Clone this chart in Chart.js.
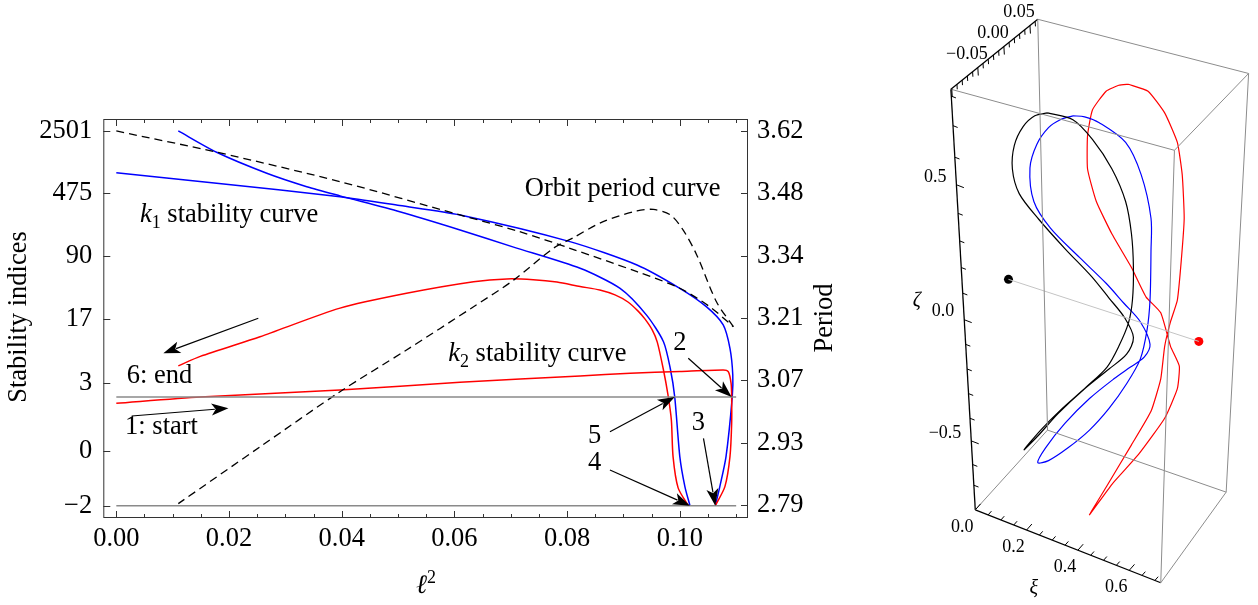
<!DOCTYPE html>
<html>
<head>
<meta charset="utf-8">
<script src="https://cdn.jsdelivr.net/npm/chart.js@4.4.1/dist/chart.umd.min.js"></script>
<style>
html, body { margin: 0; padding: 0; background: #fff; }
#wrap { position: relative; width: 1258px; height: 605px; }
#left { position: absolute; left: 0; top: 0; }
#right { position: absolute; left: 880px; top: 0; }
</style>
</head>
<body>
<div id="wrap">
<canvas id="left" width="870" height="605"></canvas>
<canvas id="right" width="378" height="605"></canvas>
</div>
<script>
// ===========================================
// DATA
// ===========================================

// k1 stability index, from "1: start" to point 3
const k1StartX = [0, 0.0178, 0.0397, 0.0503, 0.0610, 0.0805, 0.0924, 0.1000, 0.1047, 0.1077, 0.1089, 0.1094, 0.1093, 0.1082, 0.1071, 0.1063];
const k1StartK = [825, 622, 435, 344, 268, 132, 70.9, 38.1, 23.4, 14.4, 7.7, 3.74, 2.0, -0.14, -1.08, -2];

// k1 stability index, from point 4 to "6: end"
const k1EndX = [0.1018, 0.1009, 0.1000, 0.0991, 0.0983, 0.0971, 0.0941, 0.0894, 0.0823, 0.0705, 0.0610, 0.0503, 0.0397, 0.0338, 0.0267, 0.0178, 0.0110];
const k1EndK = [-2, -1.08, -0.14, 2.0, 4.5, 9.2, 18.7, 38.1, 64.9, 114, 180, 292, 445, 568, 812, 1418, 2500];

// k2 stability index, from "1: start" to point 3
const k2StartX = [0, 0.0149, 0.0397, 0.0610, 0.0823, 0.0912, 0.1000, 0.1077, 0.1086, 0.1091, 0.1092, 0.1092, 0.1089, 0.1080, 0.1063];
const k2StartK = [1.655, 2.0, 2.457, 3.06, 3.642, 3.92, 4.12, 4.29, 4.1, 2.97, 2.0, 0.817, -0.14, -1.08, -2];

// k2 stability index, from point 4 to "6: end"
const k2EndX = [0.1015, 0.0997, 0.0988, 0.0985, 0.0979, 0.0971, 0.0960, 0.0951, 0.0938, 0.0926, 0.0908, 0.0885, 0.0858, 0.0823, 0.0782, 0.0740, 0.0693, 0.0634, 0.0515, 0.0397, 0.0255, 0.0149, 0.0110];
const k2EndK = [-2, -1.13, -0.14, 0.93, 2.13, 4.29, 9.1, 12.6, 16.9, 20.8, 26.5, 32, 36.5, 40, 45, 48, 49, 45.4, 33.4, 22.5, 10.5, 6.2, 4.8];

// orbit period (right axis); the curve turns back at index 9
const periodX = [0, 0.0178, 0.0397, 0.0610, 0.0716, 0.0805, 0.0924, 0.1000, 0.1053, 0.1095, 0.1065, 0.1030, 0.1006, 0.0983, 0.0953, 0.0924, 0.0864, 0.0810, 0.0776, 0.0705, 0.0634, 0.0515, 0.0397, 0.0255, 0.0110];
const periodT = [3.62, 3.573, 3.5075, 3.4336, 3.3965, 3.3597, 3.3077, 3.271, 3.230, 3.1857, 3.241, 3.345, 3.400, 3.434, 3.446, 3.4425, 3.419, 3.3825, 3.360, 3.289, 3.230, 3.134, 3.0414, 2.919, 2.793];
const PERIOD_TURN = 9;

// stability limits k = +2 / -2
const limitX = [0, 0.110];
const limitK = [2, -2];

// ticks
const xTicks = [0, 0.02, 0.04, 0.06, 0.08, 0.10];
const stabilityTicks = [-2, 0, 3, 17, 90, 475, 2501];
const stabilityLabels = ["\u22122", "0", "3", "17", "90", "475", "2501"];
const periodTicks = [2.79, 2.928, 3.067, 3.205, 3.343, 3.482, 3.62];
const periodLabels = ["2.79", "2.93", "3.07", "3.21", "3.34", "3.48", "3.62"];

// text notes, anchored at (l^2, k)
const notes = [
    { x: 0.0042, k: 224, parts: [{ t: "k", it: 1 }, { t: "1", sub: 1 }, { t: " stability curve" }] },
    { x: 0.0725, k: 447, parts: [{ t: "Orbit period curve" }] },
    { x: 0.0589, k: 5.52, parts: [{ t: "k", it: 1 }, { t: "2", sub: 1 }, { t: " stability curve" }] },
    { x: 0.00185, k: 2.97, parts: [{ t: "6: end" }] },
    { x: 0.00156, k: 0.478, parts: [{ t: "1: start" }] },
    { x: 0.1000, k: 7.37, parts: [{ t: "2" }], center: 1 },
    { x: 0.1033, k: 0.599, parts: [{ t: "3" }], center: 1 },
    { x: 0.0849, k: 0.217, parts: [{ t: "5" }], center: 1 },
    { x: 0.0849, k: -0.515, parts: [{ t: "4" }], center: 1 }
];

// arrows: tail -> head, in (l^2, k)
const arrows = [
    [[0.0252, 17.2], [0.00834, 6.74]],
    [[0.00273, 1.085], [0.0199, 1.418]],
    [[0.1015, 5.89], [0.1092, 2]],
    [[0.0876, 0.547], [0.0991, 2]],
    [[0.0876, -0.515], [0.1018, -2]],
    [[0.1042, 0.355], [0.1063, -2]]
];

// ---- right panel: projected 3D orbits (picture coordinates) ----
const blackOrbit = [[1047,110],[1034,113],[1022,124],[1013,143],[1011,167],[1018,192],[1038,218],[1065,248],[1092,276],[1110,298],[1126,318],[1135,338],[1128,355],[1110,370],[1085,390],[1058,415],[1038,437],[1023,452],[1040,432],[1060,412],[1087,388],[1108,368],[1120,347],[1130,323],[1134,300],[1135,267],[1133,233],[1127,200],[1113,167],[1093,137],[1073,117],[1047,110]];
const blueOrbit = [[1073,113],[1060,117],[1048,125],[1036,142],[1029,166],[1033,200],[1050,227],[1080,257],[1107,283],[1125,303],[1142,322],[1152,345],[1146,358],[1132,368],[1115,380],[1090,400],[1065,425],[1045,450],[1037,465],[1048,463],[1068,450],[1090,432],[1110,410],[1128,385],[1142,360],[1149,330],[1152,300],[1153,250],[1153,217],[1143,173],[1127,140],[1100,120],[1085,114],[1073,113]];
const redOrbit = [[1130,81],[1150,88],[1167,110],[1180,140],[1185,173],[1187,217],[1184,260],[1180,300],[1173,322],[1167,347],[1163,380],[1153,413],[1133,447],[1107,490],[1090,518],[1113,487],[1140,457],[1167,420],[1180,390],[1182,367],[1173,347],[1163,313],[1148,297],[1133,267],[1113,233],[1097,200],[1088,167],[1088,133],[1093,107],[1107,88],[1120,82],[1130,81]];
const blackDot = [1007, 279];
const redDot = [1202, 342];

// box corners
const corner = { A: [948,86], B: [1037,15], C: [1253,70], D: [1177,148], E: [973,513], F: [1047,432], G: [1163,587], H: [1230,495] };
const grayEdges = [["A","D"],["B","C"],["C","D"],["B","F"],["C","H"],["D","G"],["E","F"],["F","H"],["G","H"]];
const axisEdges = [["A","B"],["A","E"],["E","G"]];

const zetaTickY = [93,123,155,183,212,240,267,293,320,345,370,395,420,443,467,488];
const zetaLabels = [[183, "0.5"], [320, "0.0"], [443, "\u22120.5"]];
const xiLabels = [[0, "0.0"], [0.2, "0.2"], [0.4, "0.4"], [0.6, "0.6"]];
const etaLabels = [[-0.05, "\u22120.05"], [0, "0.00"], [0.05, "0.05"]];

// ===========================================
// SETTINGS
// ===========================================

const FONT = "'Liberation Serif', 'Times New Roman', serif";
Chart.defaults.font.family = FONT;
Chart.defaults.color = "#000";

const FS = 26.5;

function pts(xs, ys, f) {
    return xs.map((x, i) => ({ x: x, y: f ? f(ys[i]) : ys[i] }));
}

function line(data, color, width, extra) {
    return Object.assign({
        data: data,
        showLine: true,
        borderColor: color,
        borderWidth: width,
        pointRadius: 0,
        fill: false,
        tension: 0
    }, extra || {});
}

function fontFor(p, size) {
    const s = (p.sub || p.sup) ? Math.round(size * 0.68) : size;
    return (p.it ? "italic " : "") + s + "px " + FONT;
}

function drawRich(ctx, x, y, parts, size, center) {
    const w = parts.map(p => { ctx.font = fontFor(p, size); return ctx.measureText(p.t).width; });
    let cx = center ? x - w.reduce((a, b) => a + b, 0) / 2 : x;
    parts.forEach((p, i) => {
        ctx.font = fontFor(p, size);
        const dy = p.sub ? size * 0.22 : (p.sup ? -size * 0.38 : 0);
        ctx.fillText(p.t, cx, y + dy);
        cx += w[i];
    });
}

function arrow(ctx, x1, y1, x2, y2) {
    const ang = Math.atan2(y2 - y1, x2 - x1);
    const L = 17, W = 6;
    ctx.beginPath();
    ctx.moveTo(x1, y1);
    ctx.lineTo(x2 - Math.cos(ang) * L * 0.8, y2 - Math.sin(ang) * L * 0.8);
    ctx.stroke();
    ctx.beginPath();
    ctx.moveTo(x2, y2);
    ctx.lineTo(x2 - Math.cos(ang) * L - Math.sin(ang) * W, y2 - Math.sin(ang) * L + Math.cos(ang) * W);
    ctx.lineTo(x2 - Math.cos(ang) * L * 0.75, y2 - Math.sin(ang) * L * 0.75);
    ctx.lineTo(x2 - Math.cos(ang) * L + Math.sin(ang) * W, y2 - Math.sin(ang) * L - Math.cos(ang) * W);
    ctx.closePath();
    ctx.fill();
}

// ===========================================
// LEFT CHART: frame, ticks, notes
// ===========================================

const framePlugin = {
    id: "frame",
    afterDraw(chart) {
        const { ctx, chartArea: a, scales } = chart;
        const sx = scales.x, sy = scales.y, sp = scales.yP;
        ctx.save();

        ctx.strokeStyle = "#333";
        ctx.lineWidth = 1;
        ctx.strokeRect(a.left + 0.5, a.top + 0.5, a.right - a.left - 1, a.bottom - a.top - 1);

        // x ticks, top and bottom, inside
        ctx.beginPath();
        for (let i = 0; i <= 22; i++) {
            const v = i * 0.005;
            const px = Math.round(sx.getPixelForValue(v)) + 0.5;
            const len = (i % 4 === 0) ? 7 : 4;
            ctx.moveTo(px, a.bottom); ctx.lineTo(px, a.bottom - len);
            ctx.moveTo(px, a.top); ctx.lineTo(px, a.top + len);
        }
        stabilityTicks.forEach(v => {
            const py = Math.round(sy.getPixelForValue(Math.asinh(v))) + 0.5;
            ctx.moveTo(a.left, py); ctx.lineTo(a.left + 7, py);
        });
        periodTicks.forEach(v => {
            const py = Math.round(sp.getPixelForValue(v)) + 0.5;
            ctx.moveTo(a.right, py); ctx.lineTo(a.right - 7, py);
        });
        ctx.stroke();

        // axis titles
        ctx.fillStyle = "#000";
        ctx.textBaseline = "alphabetic";
        ctx.textAlign = "center";
        ctx.font = FS + "px " + FONT;
        ctx.save();
        ctx.translate(26, 317);
        ctx.rotate(-Math.PI / 2);
        ctx.fillText("Stability indices", 0, 0);
        ctx.restore();
        ctx.save();
        ctx.translate(832, 318);
        ctx.rotate(-Math.PI / 2);
        ctx.fillText("Period", 0, 0);
        ctx.restore();
        ctx.textAlign = "left";
        drawRich(ctx, 416, 593, [{ t: "\u2113", it: 1 }, { t: "2", sup: 1 }], FS, false);

        // notes
        notes.forEach(n => {
            const px = sx.getPixelForValue(n.x);
            const py = sy.getPixelForValue(Math.asinh(n.k));
            drawRich(ctx, px, py, n.parts, FS, n.center);
        });

        // arrows
        ctx.strokeStyle = "#000";
        ctx.lineWidth = 1.2;
        arrows.forEach(([t, h]) => {
            arrow(ctx,
                sx.getPixelForValue(t[0]), sy.getPixelForValue(Math.asinh(t[1])),
                sx.getPixelForValue(h[0]), sy.getPixelForValue(Math.asinh(h[1])));
        });

        ctx.restore();
    }
};

const limitLine = k => [{ x: limitX[0], y: Math.asinh(k) }, { x: limitX[1], y: Math.asinh(k) }];
const SMOOTH = { tension: 0.25 };

const leftChart = new Chart(document.getElementById("left"), {
    type: "scatter",
    data: {
        datasets: [
            line(limitLine(limitK[0]), "#8a8a8a", 1.5),
            line(limitLine(limitK[1]), "#8a8a8a", 1.5),
            line(pts(periodX.slice(0, PERIOD_TURN + 1), periodT.slice(0, PERIOD_TURN + 1)), "#000", 1.3, { yAxisID: "yP", borderDash: [8, 5], tension: 0.3 }),
            line(pts(periodX.slice(PERIOD_TURN), periodT.slice(PERIOD_TURN)), "#000", 1.3, { yAxisID: "yP", borderDash: [8, 5], tension: 0.3 }),
            line(pts(k2StartX, k2StartK, Math.asinh), "#ff0000", 1.5, SMOOTH),
            line(pts(k2EndX, k2EndK, Math.asinh), "#ff0000", 1.5, SMOOTH),
            line(pts(k1StartX, k1StartK, Math.asinh), "#0000ff", 1.5, SMOOTH),
            line(pts(k1EndX, k1EndK, Math.asinh), "#0000ff", 1.5, SMOOTH)
        ]
    },
    options: {
        responsive: false,
        animation: false,
        layout: { padding: { top: 119, left: 0, right: 0, bottom: 0 } },
        plugins: { legend: { display: false }, tooltip: { enabled: false } },
        scales: {
            x: {
                type: "linear",
                position: "bottom",
                min: -0.00231,
                max: 0.1121,
                afterFit: s => { s.height = 87; },
                afterBuildTicks: s => { s.ticks = xTicks.map(v => ({ value: v })); },
                ticks: { callback: v => v.toFixed(2), font: { size: FS }, padding: 5, maxRotation: 0, autoSkip: false },
                grid: { display: false, drawTicks: false },
                border: { display: false }
            },
            y: {
                type: "linear",
                position: "left",
                min: -1.771,
                max: 8.835,
                afterFit: s => { s.width = 103.3; },
                afterBuildTicks: s => { s.ticks = stabilityTicks.map(v => ({ value: Math.asinh(v) })); },
                ticks: { callback: (v, i) => stabilityLabels[i], font: { size: FS }, padding: 11, autoSkip: false },
                grid: { display: false, drawTicks: false },
                border: { display: false }
            },
            yP: {
                type: "linear",
                position: "right",
                min: 2.7611,
                max: 3.6466,
                afterFit: s => { s.width = 122; },
                afterBuildTicks: s => { s.ticks = periodTicks.map(v => ({ value: v })); },
                ticks: { callback: (v, i) => periodLabels[i], font: { size: FS }, padding: 9, autoSkip: false },
                grid: { display: false, drawTicks: false },
                border: { display: false }
            }
        }
    },
    plugins: [framePlugin]
});

// ===========================================
// RIGHT CHART: 3D box, ticks and labels
// ===========================================

function lerp(p, q, t) {
    return [p[0] + (q[0] - p[0]) * t, p[1] + (q[1] - p[1]) * t];
}

// position along the eta edge A-B
const etaT = v => 0.61 + v * 6;

const boxPlugin = {
    id: "box3d",
    afterDatasetsDraw(chart) {
        const { ctx, scales: { x, y } } = chart;
        const P = p => [x.getPixelForValue(p[0]), y.getPixelForValue(p[1])];
        const A = corner.A, B = corner.B, E = corner.E, G = corner.G;
        ctx.save();
        ctx.strokeStyle = "#000";
        ctx.lineWidth = 1;
        ctx.fillStyle = "#000";
        ctx.font = "18px " + FONT;

        // zeta ticks on A-E
        ctx.beginPath();
        zetaTickY.forEach(py => {
            const t = (py - A[1]) / (E[1] - A[1]);
            const p = P(lerp(A, E, t));
            const major = zetaLabels.some(l => l[0] === py);
            const len = major ? 8 : 5;
            ctx.moveTo(p[0], p[1]); ctx.lineTo(p[0] + 0.93 * len, p[1] + 0.36 * len);
        });
        // xi ticks on E-G
        for (let i = 0; i <= 14; i++) {
            const p = P(lerp(E, G, (i * 0.05) / 0.723));
            const len = (i % 4 === 0) ? 8 : 5;
            ctx.moveTo(p[0], p[1]); ctx.lineTo(p[0] + 0.66 * len, p[1] - 0.75 * len);
        }
        // eta ticks on A-B, every 0.01
        for (let j = -10; j <= 6; j++) {
            const p = P(lerp(A, B, etaT(j * 0.01)));
            const len = (j % 5 === 0) ? 8 : 5;
            ctx.moveTo(p[0], p[1]); ctx.lineTo(p[0] + 0.06 * len, p[1] + len);
        }
        ctx.stroke();

        ctx.textBaseline = "middle";
        ctx.textAlign = "right";
        zetaLabels.forEach(([py, txt]) => {
            const t = (py - A[1]) / (E[1] - A[1]);
            const p = P(lerp(A, E, t));
            ctx.fillText(txt, p[0] - 10, p[1] - 8);
        });
        ctx.textAlign = "center";
        xiLabels.forEach(([v, txt]) => {
            const p = P(lerp(E, G, v / 0.723));
            ctx.fillText(txt, p[0] - 13, p[1] + 17);
        });
        etaLabels.forEach(([v, txt]) => {
            const p = P(lerp(A, B, etaT(v)));
            ctx.fillText(txt, p[0] - 11, p[1] - 13);
        });
        ctx.font = "italic 20px " + FONT;
        let q = P([913, 301]);
        ctx.fillText("\u03B6", q[0], q[1]);
        q = P([1033, 593]);
        ctx.fillText("\u03BE", q[0], q[1]);
        ctx.restore();
    }
};

const xy = arr => arr.map(p => ({ x: p[0], y: p[1] }));
const edge = (e, color, w) => line(xy([corner[e[0]], corner[e[1]]]), color, w);

const rightChart = new Chart(document.getElementById("right"), {
    type: "scatter",
    data: {
        datasets: [
            ...grayEdges.map(e => edge(e, "#8c8c8c", 1)),
            ...axisEdges.map(e => edge(e, "#000", 1.3)),
            line(xy([blackDot, redDot]), "#c4c4c4", 1),
            line(xy(blackOrbit), "#000", 1.2, { tension: 0.3 }),
            line(xy(blueOrbit), "#0000ff", 1.2, { tension: 0.3 }),
            line(xy(redOrbit), "#ff0000", 1.2, { tension: 0.15 }),
            { data: xy([blackDot]), pointRadius: 4.5, pointBackgroundColor: "#000", pointBorderWidth: 0 },
            { data: xy([redDot]), pointRadius: 4.5, pointBackgroundColor: "#ff0000", pointBorderWidth: 0 }
        ]
    },
    options: {
        responsive: false,
        animation: false,
        layout: { padding: 0 },
        plugins: { legend: { display: false }, tooltip: { enabled: false } },
        scales: {
            x: { type: "linear", display: false, min: 880, max: 1258 },
            y: { type: "linear", display: false, min: 0, max: 605, reverse: true }
        }
    },
    plugins: [boxPlugin]
});
</script>
</body>
</html>
